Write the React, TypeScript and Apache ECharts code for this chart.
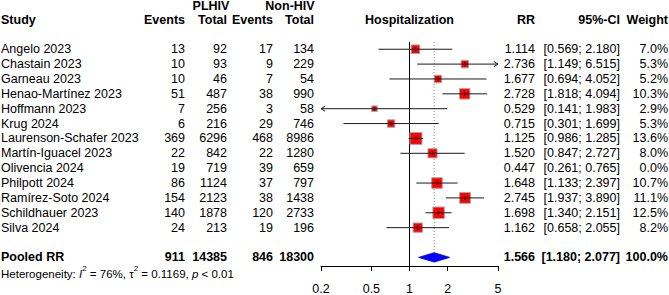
import React, { useEffect, useRef } from 'react';
import * as echarts from 'echarts';

// ---------- data ----------
const studies = [
  'Angelo 2023', 'Chastain 2023', 'Garneau 2023', 'Henao-Martínez 2023', 'Hoffmann 2023',
  'Krug 2024', 'Laurenson-Schafer 2023', 'Martín-Iguacel 2023', 'Olivencia 2024',
  'Philpott 2024', 'Ramírez-Soto 2024', 'Schildhauer 2023', 'Silva 2024',
];
const plhivEvents = [13, 10, 10, 51, 7, 6, 369, 22, 19, 86, 154, 140, 24];
const plhivTotal = [92, 93, 46, 487, 256, 216, 6296, 842, 719, 1124, 2123, 1878, 213];
const nonHivEvents = [17, 9, 7, 38, 3, 29, 468, 22, 39, 37, 38, 120, 19];
const nonHivTotal = [134, 229, 54, 990, 58, 746, 8986, 1280, 659, 797, 1438, 2733, 196];
const rr = [1.114, 2.736, 1.677, 2.728, 0.529, 0.715, 1.125, 1.52, 0.447, 1.648, 2.745, 1.698, 1.162];
const ciLow = [0.569, 1.149, 0.694, 1.818, 0.141, 0.301, 0.986, 0.847, 0.261, 1.133, 1.937, 1.34, 0.658];
const ciHigh = [2.18, 6.515, 4.052, 4.094, 1.983, 1.699, 1.285, 2.727, 0.765, 2.397, 3.89, 2.151, 2.055];
const weights = [7.0, 5.3, 5.2, 10.3, 2.9, 5.3, 13.6, 8.0, 0.0, 10.7, 11.1, 12.5, 8.2];

const pooledCounts = [911, 14385, 846, 18300];
const pooledRR = 1.566;
const pooledLow = 1.18;
const pooledHigh = 2.077;
const pooledWeight = 100.0;
const hetI2 = '76%';
const hetTau2 = '0.1169';
const hetP = '< 0.01';

const tickValues = [0.2, 0.5, 1, 2, 5];
const X_MIN = 0.2;
const X_MAX = 5;

// ---------- layout ----------
const FONT = '"Liberation Sans", Arial, Helvetica, sans-serif';
const FS = 12.5;
const Y_MIN = -0.4867;
const Y_MAX = 14.58;
const POOLED_ROW = 14;
const HET_ROW = 15;
const GROUP_ROW = -2.88;
const HEADER_ROW = -2;
const COL = { study: 1, ev1: 185, tot1: 227, ev2: 273, tot2: 314, rr: 535, ci: 620, w: 668, plhiv: 211, nonhiv: 290, plot: 409.5 };

const lg = (v: number) => Math.log10(v);

type Cell = { t: string; x: number; a: 'left' | 'right' | 'center'; b?: boolean; rich?: boolean };
type Row = { row: number; cells: Cell[] };

const fmtCI = (lo: number, hi: number) => `[${lo.toFixed(3)}; ${hi.toFixed(3)}]`;

const tableRows: Row[] = [
  {
    row: GROUP_ROW,
    cells: [
      { t: 'PLHIV', x: COL.plhiv, a: 'center', b: true },
      { t: 'Non-HIV', x: COL.nonhiv, a: 'center', b: true },
    ],
  },
  {
    row: HEADER_ROW,
    cells: [
      { t: 'Study', x: COL.study, a: 'left', b: true },
      { t: 'Events', x: COL.ev1, a: 'right', b: true },
      { t: 'Total', x: COL.tot1, a: 'right', b: true },
      { t: 'Events', x: COL.ev2, a: 'right', b: true },
      { t: 'Total', x: COL.tot2, a: 'right', b: true },
      { t: 'Hospitalization', x: COL.plot, a: 'center', b: true },
      { t: 'RR', x: COL.rr, a: 'right', b: true },
      { t: '95%-CI', x: COL.ci, a: 'right', b: true },
      { t: 'Weight', x: COL.w, a: 'right', b: true },
    ],
  },
  ...studies.map((s, i) => ({
    row: i,
    cells: [
      { t: s, x: COL.study, a: 'left' as const },
      { t: String(plhivEvents[i]), x: COL.ev1, a: 'right' as const },
      { t: String(plhivTotal[i]), x: COL.tot1, a: 'right' as const },
      { t: String(nonHivEvents[i]), x: COL.ev2, a: 'right' as const },
      { t: String(nonHivTotal[i]), x: COL.tot2, a: 'right' as const },
      { t: rr[i].toFixed(3), x: COL.rr, a: 'right' as const },
      { t: fmtCI(ciLow[i], ciHigh[i]), x: COL.ci, a: 'right' as const },
      { t: weights[i].toFixed(1) + '%', x: COL.w, a: 'right' as const },
    ],
  })),
  {
    row: POOLED_ROW,
    cells: [
      { t: 'Pooled RR', x: COL.study, a: 'left', b: true },
      { t: String(pooledCounts[0]), x: COL.ev1, a: 'right', b: true },
      { t: String(pooledCounts[1]), x: COL.tot1, a: 'right', b: true },
      { t: String(pooledCounts[2]), x: COL.ev2, a: 'right', b: true },
      { t: String(pooledCounts[3]), x: COL.tot2, a: 'right', b: true },
      { t: pooledRR.toFixed(3), x: COL.rr, a: 'right', b: true },
      { t: fmtCI(pooledLow, pooledHigh), x: COL.ci, a: 'right', b: true },
      { t: pooledWeight.toFixed(1) + '%', x: COL.w, a: 'right', b: true },
    ],
  },
  {
    row: HET_ROW,
    cells: [
      {
        t: `{n|Heterogeneity: }{i|I}{s|2}{n| = ${hetI2}, τ}{s|2}{n| = ${hetTau2}, }{i|p}{n| ${hetP}}`,
        x: COL.study,
        a: 'left',
        rich: true,
      },
    ],
  },
];

const HET_FS = 11.5;
const richStyles = {
  n: { fontSize: HET_FS, fontFamily: FONT, fill: '#000', lineHeight: 16, verticalAlign: 'bottom' },
  i: { fontSize: HET_FS, fontFamily: FONT, fontStyle: 'italic', fill: '#000', lineHeight: 16, verticalAlign: 'bottom' },
  s: { fontSize: 8, fontFamily: FONT, fill: '#000', lineHeight: 10, verticalAlign: 'top' },
};

export default function App() {
  const ref = useRef<HTMLDivElement>(null);

  useEffect(() => {
    if (!ref.current) return;
    const chart = echarts.init(ref.current, null, { renderer: 'svg' });
    const xMinL = lg(X_MIN);
    const xMaxL = lg(X_MAX);
    const tickLogs = tickValues.map(lg);

    const option: any = {
      animation: false,
      grid: { left: 321, right: 171, top: 42, bottom: 27, containLabel: false },
      xAxis: {
        type: 'value',
        min: xMinL,
        max: xMaxL,
        position: 'bottom',
        axisLine: { show: true, onZero: false, lineStyle: { color: '#000', width: 1 } },
        axisTick: { show: true, length: 5, inside: false, customValues: tickLogs, lineStyle: { color: '#000', width: 1 } },
        axisLabel: {
          show: true,
          customValues: tickLogs,
          margin: 16,
          color: '#000',
          fontSize: FS,
          fontFamily: FONT,
          formatter: (v: number) => {
            let best = 0;
            tickLogs.forEach((t, k) => { if (Math.abs(t - v) < Math.abs(tickLogs[best] - v)) best = k; });
            return String(tickValues[best]);
          },
        },
        splitLine: { show: false },
      },
      yAxis: { type: 'value', inverse: true, min: Y_MIN, max: Y_MAX, show: false },
      series: [
        // reference line at RR = 1
        {
          type: 'custom',
          silent: true,
          data: [[lg(1), 0]],
          renderItem: (params: any, api: any) => {
            const p1 = api.coord([api.value(0), Y_MIN]);
            const p2 = api.coord([api.value(0), Y_MAX]);
            return {
              type: 'line',
              shape: { x1: p1[0], y1: p1[1], x2: p2[0], y2: p2[1] },
              style: { stroke: '#000', lineWidth: 1 },
            };
          },
        },
        // pooled: dotted line + diamond
        {
          type: 'custom',
          silent: true,
          data: [[lg(pooledRR), POOLED_ROW, lg(pooledLow), lg(pooledHigh)]],
          encode: { x: [0, 2, 3], y: 1 },
          renderItem: (params: any, api: any) => {
            const c = api.coord([api.value(0), api.value(1)]);
            const xl = api.coord([api.value(2), api.value(1)])[0];
            const xh = api.coord([api.value(3), api.value(1)])[0];
            const top = api.coord([api.value(0), Y_MIN]);
            const h = 4.7;
            return {
              type: 'group',
              children: [
                {
                  type: 'line',
                  shape: { x1: top[0], y1: top[1], x2: c[0], y2: c[1] - h },
                  style: { stroke: '#8c8c8c', lineWidth: 1, lineDash: [1, 2] },
                },
                {
                  type: 'polygon',
                  shape: { points: [[xl, c[1]], [c[0], c[1] - h], [xh, c[1]], [c[0], c[1] + h]] },
                  style: { fill: '#0000ff', stroke: '#0000c8', lineWidth: 0.8 },
                },
              ],
            };
          },
        },
        // studies
        {
          type: 'custom',
          silent: true,
          data: studies.map((_, i) => [lg(rr[i]), i, lg(ciLow[i]), lg(ciHigh[i]), weights[i]]),
          encode: { x: [0, 2, 3], y: 1 },
          renderItem: (params: any, api: any) => {
            const w = api.value(4);
            if (!(w > 0)) return { type: 'group', children: [] };
            const row = api.value(1);
            const c = api.coord([api.value(0), row]);
            const lo = api.value(2);
            const hi = api.value(3);
            const xl = api.coord([Math.max(lo, xMinL), row])[0];
            const xh = api.coord([Math.min(hi, xMaxL), row])[0];
            const y = c[1];
            const size = 3.25 * Math.sqrt(w);
            const children: any[] = [
              {
                type: 'rect',
                shape: { x: c[0] - size / 2, y: y - size / 2, width: size, height: size },
                style: { fill: '#ff0000', stroke: '#a8a8a8', lineWidth: 1 },
              },
              {
                type: 'line',
                shape: { x1: xl, y1: y, x2: xh, y2: y },
                style: { stroke: '#1a1a1a', lineWidth: 1 },
              },
              {
                type: 'line',
                shape: { x1: c[0], y1: y - 2, x2: c[0], y2: y + 2 },
                style: { stroke: '#1a1a1a', lineWidth: 1 },
              },
            ];
            if (hi > xMaxL) {
              children.push({
                type: 'polyline',
                shape: { points: [[xh - 4, y - 2.5], [xh, y], [xh - 4, y + 2.5]] },
                style: { stroke: '#1a1a1a', lineWidth: 1, fill: 'none' },
              });
            }
            if (lo < xMinL) {
              children.push({
                type: 'polyline',
                shape: { points: [[xl + 4, y - 2.5], [xl, y], [xl + 4, y + 2.5]] },
                style: { stroke: '#1a1a1a', lineWidth: 1, fill: 'none' },
              });
            }
            return { type: 'group', children };
          },
        },
        // table text
        {
          type: 'custom',
          silent: true,
          data: tableRows.map((r) => [0, r.row]),
          encode: { x: 0, y: 1 },
          renderItem: (params: any, api: any) => {
            const r = tableRows[params.dataIndex];
            const y = api.coord([0, api.value(1)])[1];
            return {
              type: 'group',
              children: r.cells.map((cell) => ({
                type: 'text',
                x: cell.x,
                y,
                style: cell.rich
                  ? {
                      text: cell.t,
                      rich: richStyles,
                      textAlign: cell.a,
                      textVerticalAlign: 'middle',
                      fontSize: HET_FS,
                      fontFamily: FONT,
                      fill: '#000',
                    }
                  : {
                      text: cell.t,
                      textAlign: cell.a,
                      textVerticalAlign: 'middle',
                      fontSize: FS,
                      fontWeight: cell.b ? 'bold' : 'normal',
                      fontFamily: FONT,
                      fill: '#000',
                    },
              })),
            };
          },
        },
      ],
    };
    chart.setOption(option);
    return () => chart.dispose();
  }, []);

  return <div ref={ref} style={{ position: 'absolute', left: 0, top: 0, width: 669, height: 295 }} />;
}
